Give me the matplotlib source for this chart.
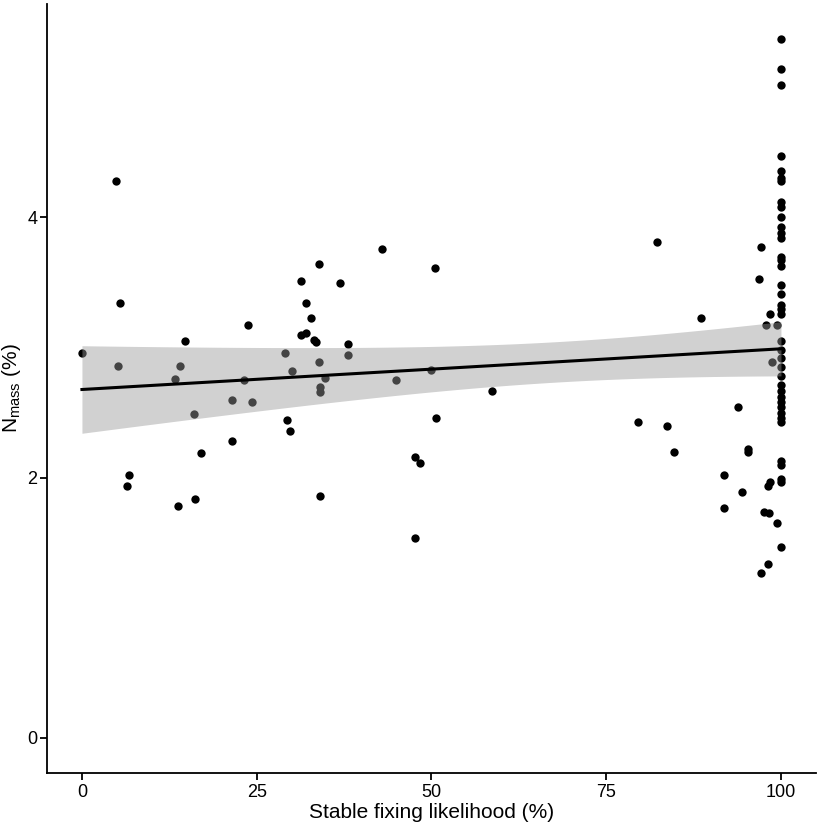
import numpy as np
import matplotlib
matplotlib.use("Agg")
import matplotlib.pyplot as plt
from matplotlib import font_manager

# Data
x_left = [0, 4.9, 5.4, 5.1, 6.7, 6.4, 13.8, 13.3, 14.0, 14.8, 16.0, 16.2, 17.1,
          21.5, 21.5, 23.2, 23.7, 24.4]
y_left = [2.96, 4.28, 3.34, 2.86, 2.02, 1.94, 1.78, 2.76, 2.86, 3.05, 2.49, 1.84, 2.19,
          2.28, 2.60, 2.75, 3.17, 2.58]

x_mid = [29.1, 29.4, 29.7, 30.1, 31.4, 31.4, 32.0, 32.0, 32.7, 33.2, 33.5, 33.9, 33.9,
         34.0, 34.0, 34.0, 34.8, 36.9, 38.0, 38.0, 42.9, 45.0, 47.7, 48.4, 47.7,
         50.0, 50.5, 50.7, 58.7]
y_mid = [2.96, 2.44, 2.36, 2.82, 3.51, 3.10, 3.34, 3.11, 3.23, 3.06, 3.04, 3.64, 2.89,
         2.70, 2.66, 1.86, 2.77, 3.50, 3.03, 2.94, 3.76, 2.75, 2.16, 2.11, 1.54,
         2.83, 3.61, 2.46, 2.67]

x_right = [79.5, 82.2, 83.7, 84.7, 88.6, 91.9, 91.9, 93.9, 94.4, 95.3, 95.3,
           96.9, 97.2, 97.2, 97.6, 97.9, 98.1, 98.1, 98.3, 98.4, 98.4, 98.7, 99.5, 99.5]
y_right = [2.43, 3.81, 2.40, 2.20, 3.23, 2.02, 1.77, 2.54, 1.89, 2.22, 2.20,
           3.53, 3.77, 1.27, 1.74, 3.17, 1.94, 1.34, 1.73, 3.26, 1.97, 2.89, 3.17, 1.65]

y_at_100 = [5.37, 5.14, 5.02, 4.47, 4.36, 4.30, 4.28, 4.12, 4.08, 4.00, 3.93, 3.88,
            3.84, 3.70, 3.67, 3.63, 3.48, 3.41, 3.33, 3.30, 3.26, 3.05, 2.98, 2.92,
            2.85, 2.78, 2.71, 2.67, 2.62, 2.58, 2.54, 2.50, 2.46, 2.43, 2.13, 2.10,
            1.99, 1.97, 1.47]

x_ticks = [0, 25, 50, 75, 100]
y_ticks = [0, 2, 4]

x = np.array(x_left + x_mid + x_right + [100.0] * len(y_at_100))
y = np.array(y_left + y_mid + y_right + y_at_100)

# font
names = {f.name for f in font_manager.fontManager.ttflist}
fam = "Liberation Sans Narrow" if "Liberation Sans Narrow" in names else "Liberation Sans"
plt.rcParams["font.family"] = [fam, "DejaVu Sans"]

fig = plt.figure(figsize=(8.2, 8.25), dpi=100)
ax = fig.add_axes([0.0573, 0.063, 0.995 - 0.0573, 0.995 - 0.063])

ax.scatter(x, y, s=36, color="black", linewidths=0, zorder=2)

# linear fit with 95% CI
n = len(x)
b1, b0 = np.polyfit(x, y, 1)
xs = np.linspace(0, 100, 200)
ys = b0 + b1 * xs
resid = y - (b0 + b1 * x)
s2 = np.sum(resid ** 2) / (n - 2)
sxx = np.sum((x - x.mean()) ** 2)
se = np.sqrt(s2 * (1.0 / n + (xs - x.mean()) ** 2 / sxx))
tcrit = 1.985
ax.fill_between(xs, ys - tcrit * se, ys + tcrit * se, color="#999999", alpha=0.45,
                linewidth=0, zorder=3)
ax.plot(xs, ys, color="black", linewidth=2.2, zorder=4)

ax.set_xlim(-5, 105)
ax.set_ylim(-0.27, 5.64)
ax.set_xticks(x_ticks)
ax.set_yticks(y_ticks)
ax.spines["top"].set_visible(False)
ax.spines["right"].set_visible(False)
for s in ("left", "bottom"):
    ax.spines[s].set_linewidth(1.3)
ax.tick_params(direction="out", length=5, width=1.3, labelsize=13, colors="black", pad=3)
ax.tick_params(axis="y", pad=2)
ax.set_xlabel("Stable fixing likelihood (%)", fontsize=15, labelpad=1)
ax.set_ylabel(r"N$_{\mathregular{mass}}$ (%)", fontsize=15, labelpad=3)

fig.savefig("out.png", dpi=100)
